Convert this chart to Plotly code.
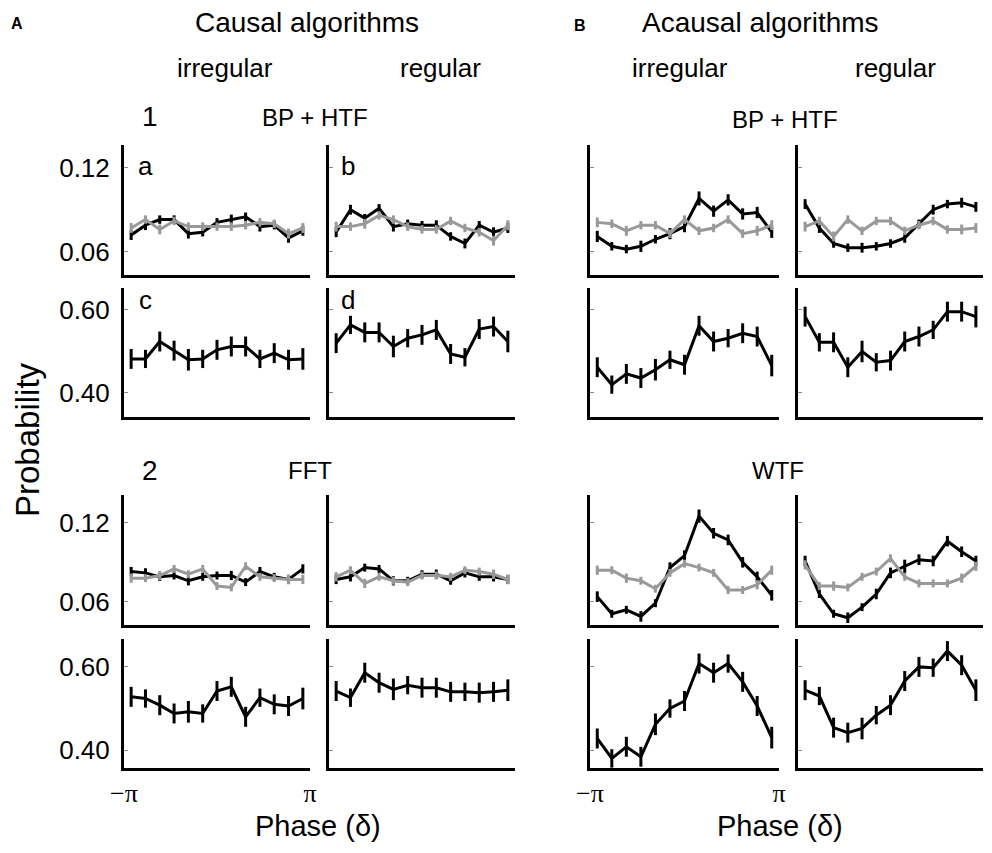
import numpy as np
import plotly.graph_objects as go

# ---------------- data ----------------
N_BINS = 13
phase = [(-np.pi + (2 * i + 1) * np.pi / N_BINS) for i in range(N_BINS)]

# Row 1 (BP + HTF, phase probability) -- black & gray series
A1_irr_black = [0.072, 0.079, 0.083, 0.083, 0.073, 0.074, 0.081, 0.083, 0.085, 0.078, 0.079, 0.070, 0.075]
A1_irr_gray = [0.077, 0.083, 0.076, 0.082, 0.078, 0.078, 0.078, 0.078, 0.079, 0.081, 0.080, 0.073, 0.077]
A1_reg_black = [0.074, 0.090, 0.084, 0.091, 0.078, 0.080, 0.079, 0.079, 0.071, 0.066, 0.079, 0.074, 0.077]
A1_reg_gray = [0.078, 0.078, 0.080, 0.086, 0.083, 0.078, 0.076, 0.076, 0.082, 0.077, 0.074, 0.068, 0.079]
B1_irr_black = [0.071, 0.064, 0.062, 0.064, 0.069, 0.073, 0.078, 0.098, 0.089, 0.097, 0.087, 0.088, 0.074]
B1_irr_gray = [0.081, 0.080, 0.075, 0.079, 0.079, 0.073, 0.083, 0.075, 0.077, 0.083, 0.073, 0.075, 0.079]
B1_reg_black = [0.094, 0.077, 0.066, 0.063, 0.063, 0.064, 0.066, 0.070, 0.080, 0.090, 0.094, 0.095, 0.092]
B1_reg_gray = [0.078, 0.082, 0.071, 0.083, 0.075, 0.082, 0.082, 0.075, 0.079, 0.082, 0.076, 0.076, 0.077]

# Row 2 (BP + HTF, overall probability)
A1_irr_overall = [0.482, 0.482, 0.524, 0.502, 0.480, 0.482, 0.504, 0.512, 0.512, 0.482, 0.496, 0.480, 0.482]
A1_reg_overall = [0.520, 0.564, 0.546, 0.546, 0.512, 0.532, 0.540, 0.552, 0.494, 0.486, 0.554, 0.560, 0.524]
B1_irr_overall = [0.462, 0.420, 0.446, 0.436, 0.456, 0.480, 0.468, 0.562, 0.524, 0.532, 0.544, 0.536, 0.466]
B1_reg_overall = [0.584, 0.522, 0.522, 0.462, 0.500, 0.474, 0.478, 0.524, 0.536, 0.552, 0.596, 0.596, 0.584]

# Row 3 (FFT / WTF, phase probability)
A2_irr_black = [0.083, 0.082, 0.079, 0.080, 0.076, 0.079, 0.080, 0.080, 0.075, 0.083, 0.079, 0.077, 0.085]
A2_irr_gray = [0.078, 0.078, 0.080, 0.085, 0.081, 0.085, 0.072, 0.071, 0.087, 0.079, 0.078, 0.077, 0.077]
A2_reg_black = [0.077, 0.079, 0.086, 0.085, 0.076, 0.076, 0.081, 0.081, 0.076, 0.082, 0.079, 0.079, 0.077]
A2_reg_gray = [0.079, 0.084, 0.074, 0.079, 0.076, 0.075, 0.080, 0.080, 0.079, 0.084, 0.083, 0.081, 0.077]
B2_irr_black = [0.064, 0.051, 0.054, 0.049, 0.059, 0.086, 0.095, 0.125, 0.112, 0.107, 0.090, 0.079, 0.065]
B2_irr_gray = [0.084, 0.084, 0.078, 0.076, 0.070, 0.082, 0.089, 0.086, 0.082, 0.069, 0.069, 0.073, 0.084]
B2_reg_black = [0.091, 0.066, 0.051, 0.048, 0.056, 0.066, 0.082, 0.087, 0.092, 0.091, 0.106, 0.098, 0.091]
B2_reg_gray = [0.088, 0.072, 0.072, 0.071, 0.079, 0.083, 0.093, 0.079, 0.074, 0.074, 0.074, 0.078, 0.087]

# Row 4 (FFT / WTF, overall probability)
A2_irr_overall = [0.528, 0.524, 0.508, 0.488, 0.492, 0.488, 0.542, 0.552, 0.480, 0.526, 0.510, 0.506, 0.524]
A2_reg_overall = [0.542, 0.526, 0.586, 0.562, 0.546, 0.556, 0.550, 0.550, 0.540, 0.540, 0.538, 0.540, 0.544]
B2_irr_overall = [0.428, 0.380, 0.408, 0.384, 0.462, 0.500, 0.518, 0.608, 0.586, 0.608, 0.564, 0.506, 0.430]
B2_reg_overall = [0.544, 0.530, 0.454, 0.442, 0.452, 0.484, 0.508, 0.566, 0.600, 0.598, 0.638, 0.604, 0.544]

# error bar half-lengths
err_phase_black = [0.0035, 0.0035, 0.003, 0.003, 0.0035, 0.003, 0.003, 0.0035, 0.003, 0.0035, 0.003, 0.0035, 0.0035]
err_phase_gray = [0.0035, 0.003, 0.0035, 0.003, 0.003, 0.003, 0.003, 0.003, 0.003, 0.003, 0.003, 0.0035, 0.0035]
err_wtf_black = [0.004, 0.003, 0.003, 0.004, 0.003, 0.004, 0.004, 0.005, 0.004, 0.004, 0.004, 0.004, 0.004]
err_overall = [0.024, 0.022, 0.024, 0.024, 0.026, 0.022, 0.024, 0.024, 0.024, 0.022, 0.024, 0.024, 0.026]

# tick labels
yt_phase = [0.06, 0.12]
yt_phase_text = ["0.06", "0.12"]
yt_overall = [0.40, 0.60]
yt_overall_text = ["0.40", "0.60"]
xt_vals = [-np.pi, np.pi]
xt_text = ["\u2212\u03c0", "\u03c0"]

# ---------------- layout geometry (screen pixels; page has an 8px body margin) ----------------
OFF = 8
W, H = 992 - 2 * OFF, 853 - 2 * OFF
col_px = [(124, 310), (329, 515), (590, 779), (798, 983)]
row_px = [(145, 275), (288, 417), (495, 625), (639, 768)]
row_ranges = [[0.0436, 0.136], [0.342, 0.653], [0.0425, 0.141], [0.357, 0.667]]

BLACK = "#000000"
GRAY = "#999999"

panels = {
    (0, 0): [(A1_irr_black, err_phase_black, BLACK), (A1_irr_gray, err_phase_gray, GRAY)],
    (0, 1): [(A1_reg_black, err_phase_black, BLACK), (A1_reg_gray, err_phase_gray, GRAY)],
    (0, 2): [(B1_irr_black, err_wtf_black, BLACK), (B1_irr_gray, err_phase_gray, GRAY)],
    (0, 3): [(B1_reg_black, err_phase_black, BLACK), (B1_reg_gray, err_phase_gray, GRAY)],
    (1, 0): [(A1_irr_overall, err_overall, BLACK)],
    (1, 1): [(A1_reg_overall, err_overall, BLACK)],
    (1, 2): [(B1_irr_overall, err_overall, BLACK)],
    (1, 3): [(B1_reg_overall, err_overall, BLACK)],
    (2, 0): [(A2_irr_black, err_phase_black, BLACK), (A2_irr_gray, err_phase_gray, GRAY)],
    (2, 1): [(A2_reg_black, err_phase_black, BLACK), (A2_reg_gray, err_phase_gray, GRAY)],
    (2, 2): [(B2_irr_black, err_wtf_black, BLACK), (B2_irr_gray, err_phase_gray, GRAY)],
    (2, 3): [(B2_reg_black, err_wtf_black, BLACK), (B2_reg_gray, err_phase_gray, GRAY)],
    (3, 0): [(A2_irr_overall, err_overall, BLACK)],
    (3, 1): [(A2_reg_overall, err_overall, BLACK)],
    (3, 2): [(B2_irr_overall, err_overall, BLACK)],
    (3, 3): [(B2_reg_overall, err_overall, BLACK)],
}

FONT = "Liberation Sans, Arial, sans-serif"
SERIF = "Liberation Serif, Times New Roman, serif"


def fx(px):
    return (px - OFF) / W


def fy(py):
    return 1 - (py - OFF) / H


fig = go.Figure()
layout = {}
n = 0
for r in range(4):
    for c in range(4):
        n += 1
        xa = "x" if n == 1 else f"x{n}"
        ya = "y" if n == 1 else f"y{n}"
        xkey = "xaxis" if n == 1 else f"xaxis{n}"
        ykey = "yaxis" if n == 1 else f"yaxis{n}"
        x0, x1 = col_px[c]
        yt, yb = row_px[r]
        show_x = (r == 3 and c in (0, 2))
        layout[xkey] = dict(
            domain=[fx(x0), min(fx(x1), 1.0)], anchor=ya, range=[-np.pi, np.pi], automargin=False,
            showline=True, linecolor=BLACK, linewidth=3, showgrid=False, zeroline=False,
            tickmode="array", tickvals=xt_vals if show_x else [], ticktext=xt_text if show_x else [],
            showticklabels=show_x, ticks="",
            tickfont=dict(family=SERIF, size=26, color=BLACK),
        )
        is_phase = r in (0, 2)
        layout[ykey] = dict(
            domain=[fy(yb), fy(yt)], anchor=xa, range=row_ranges[r], automargin=False,
            showline=True, linecolor=BLACK, linewidth=3, showgrid=False, zeroline=False,
            tickmode="array",
            tickvals=yt_phase if is_phase else yt_overall,
            ticktext=yt_phase_text if is_phase else yt_overall_text,
            showticklabels=(c == 0), ticks="inside", ticklen=4, tickwidth=1, tickcolor="#888888",
            ticklabelstandoff=6,
            tickfont=dict(family=FONT, size=26, color=BLACK),
        )
        for vals, err, col in panels[(r, c)]:
            fig.add_trace(go.Scatter(
                x=phase, y=vals, xaxis=xa, yaxis=ya, mode="lines",
                line=dict(color=col, width=3),
                error_y=dict(type="data", array=err, visible=True, width=0, thickness=3, color=col),
                showlegend=False, hoverinfo="skip",
            ))

ann = []


def add_text(text, px, py, size=26, family=FONT, bold=False, angle=0):
    t = f"<b>{text}</b>" if bold else text
    ann.append(dict(text=t, x=fx(px), y=fy(py), xref="paper", yref="paper",
                    showarrow=False, xanchor="center", yanchor="middle", textangle=angle,
                    font=dict(family=family, size=size, color=BLACK)))


add_text("A", 17, 24, size=16, bold=True)
add_text("B", 580, 26, size=16, bold=True)
add_text("Causal algorithms", 307, 22, size=28)
add_text("Acausal algorithms", 760, 22, size=28)
add_text("irregular", 225, 68, size=26)
add_text("regular", 440, 68, size=26)
add_text("irregular", 680, 68, size=26)
add_text("regular", 895, 68, size=26)
add_text("1", 150, 117, size=28)
add_text("BP + HTF", 315, 118, size=24)
add_text("BP + HTF", 785, 120, size=24)
add_text("a", 145, 166, size=26)
add_text("b", 348, 166, size=26)
add_text("c", 145, 300, size=26)
add_text("d", 348, 300, size=26)
add_text("2", 150, 470, size=28)
add_text("FFT", 310, 470, size=24)
add_text("WTF", 778, 470, size=24)
add_text("Probability", 27, 440, size=33, angle=-90)
add_text("Phase (\u03b4)", 318, 826, size=29)
add_text("Phase (\u03b4)", 780, 826, size=29)

fig.update_layout(
    width=W, height=H, margin=dict(l=0, r=0, t=0, b=0, pad=0, autoexpand=False),
    paper_bgcolor="white", plot_bgcolor="white",
    annotations=ann, showlegend=False,
    **layout,
)

fig.write_html("out.html")
